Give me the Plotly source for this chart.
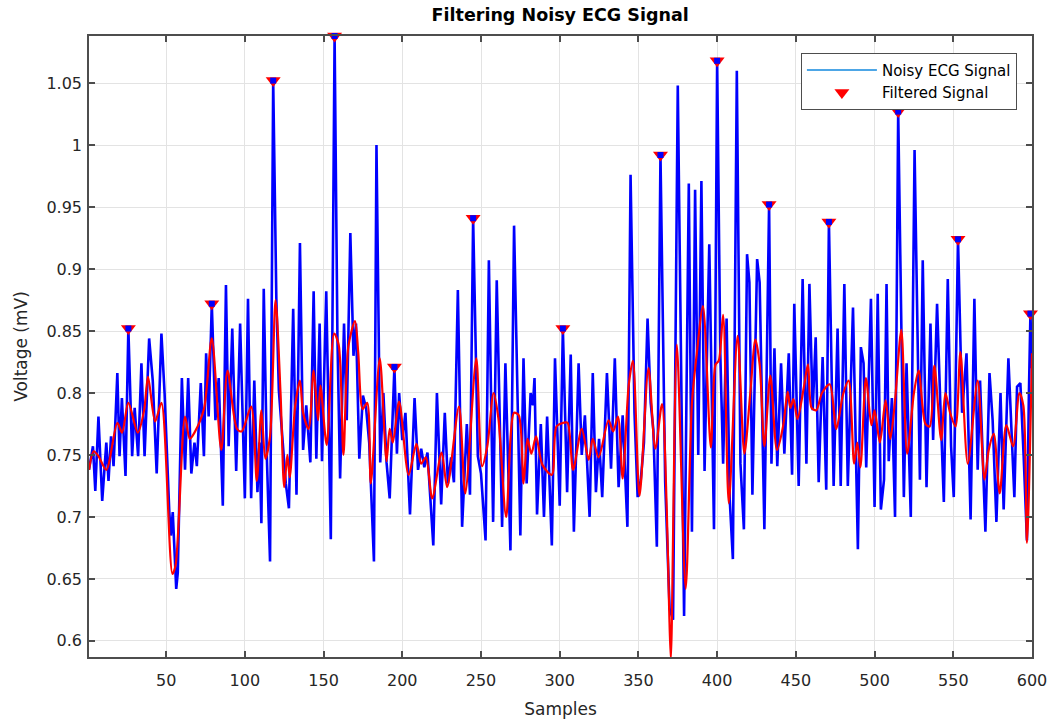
import plotly.graph_objects as go

# ---- data ----
noisy_x = [1, 3.5, 5, 7, 9.4, 12, 13.4, 15, 16.6, 19, 20.4, 21.9, 24.2, 26, 28.4, 30, 32.2, 34.3, 36.3, 39.2,
           41.5, 44, 47, 49, 52, 53, 54.2, 56.4, 57.4, 60, 62, 64, 66, 68, 69.5, 72, 74, 75.4, 77, 79,
           81.3, 83.4, 86, 88, 89.7, 92, 94.5, 97, 100, 102, 104, 106, 108, 109.3, 110.5, 112, 114, 116, 118, 120,
           121.6, 123.5, 126, 128, 130.7, 132.8, 135, 137, 139, 141.6, 143.7, 145.4, 147.5, 149, 151.7, 154.6, 157, 158.8, 160.5, 163,
           164.7, 167, 169, 170.6, 172.7, 175, 177, 179, 182, 183.6, 186, 188, 190, 192, 195, 196.6, 198, 200, 202, 204.9,
           207.8, 210, 212, 214, 216, 219.7, 222, 224.7, 227, 229, 231, 232.8, 235.3, 238, 241, 243, 245, 248, 250, 252.9,
           255, 257.7, 260, 263.4, 265.5, 268.7, 271, 275, 277, 279, 281.5, 283, 284, 285.6, 288, 290, 292, 295, 297, 300,
           302, 304.7, 307, 309, 312, 314, 316, 319, 321, 323, 325, 327, 330, 332.6, 335, 337.4, 340, 343, 345, 347.5,
           349.5, 351.5, 353.5, 355.8, 357.8, 359.5, 361.7, 364, 367, 369.8, 372, 375, 379, 382, 384, 386, 388, 390, 392, 395,
           398, 400, 402, 403.8, 406, 408, 410, 412.5, 414.8, 417, 419, 420.5, 422.4, 425.4, 427, 430, 433, 434.5, 436.4, 438.2,
           440.6, 442.7, 445.5, 447.6, 449, 451.8, 454.3, 456.7, 458.6, 460.7, 462.6, 464.5, 467, 469.3, 471, 474, 476.5, 478.5, 480.8, 483,
           486.3, 489.4, 491.3, 493, 494.7, 497.7, 500, 502, 504, 506, 507.6, 509, 511, 513, 515, 518.6, 520.3, 523, 525.4, 528.8,
           530.6, 533, 535.5, 537.2, 539.7, 541.8, 544, 546.5, 548.6, 550.3, 553, 555.6, 558.4, 561, 563.4, 565.5, 567, 570.4, 573, 575,
           577.4, 580, 582, 585, 587, 588.8, 590.5, 592.6, 594.7, 596.8, 598, 599, 600]
noisy_y = [0.738, 0.757, 0.721, 0.781, 0.713, 0.760, 0.729, 0.765, 0.741, 0.816, 0.749, 0.796, 0.733, 0.852, 0.749, 0.788, 0.749, 0.824, 0.749, 0.844,
           0.810, 0.735, 0.848, 0.800, 0.704, 0.685, 0.704, 0.642, 0.655, 0.812, 0.738, 0.812, 0.735, 0.760, 0.741, 0.808, 0.749, 0.832, 0.781, 0.872,
           0.778, 0.812, 0.709, 0.887, 0.757, 0.852, 0.737, 0.856, 0.715, 0.876, 0.715, 0.810, 0.720, 0.760, 0.695, 0.884, 0.747, 0.664, 1.052, 0.876,
           0.802, 0.770, 0.727, 0.707, 0.868, 0.718, 0.921, 0.754, 0.790, 0.744, 0.882, 0.747, 0.856, 0.745, 0.882, 0.682, 1.088, 0.845, 0.731, 0.856,
           0.778, 0.929, 0.830, 0.856, 0.747, 0.798, 0.788, 0.760, 0.664, 1.000, 0.744, 0.800, 0.744, 0.715, 0.821, 0.751, 0.800, 0.762, 0.784, 0.702,
           0.796, 0.738, 0.755, 0.740, 0.752, 0.677, 0.800, 0.710, 0.784, 0.727, 0.748, 0.728, 0.883, 0.692, 0.775, 0.718, 0.941, 0.749, 0.735, 0.681,
           0.907, 0.696, 0.891, 0.692, 0.824, 0.673, 0.935, 0.685, 0.828, 0.727, 0.800, 0.790, 0.812, 0.702, 0.775, 0.700, 0.781, 0.677, 0.828, 0.709,
           0.852, 0.720, 0.831, 0.688, 0.824, 0.750, 0.782, 0.700, 0.816, 0.720, 0.763, 0.716, 0.816, 0.739, 0.828, 0.724, 0.782, 0.692, 0.976, 0.784,
           0.716, 0.730, 0.760, 0.860, 0.792, 0.770, 0.676, 0.992, 0.728, 0.626, 0.617, 1.048, 0.620, 0.969, 0.688, 0.964, 0.750, 0.971, 0.737, 0.920,
           0.690, 1.068, 0.832, 0.743, 0.860, 0.714, 0.666, 1.060, 0.743, 0.690, 0.912, 0.889, 0.718, 0.908, 0.889, 0.690, 0.952, 0.743, 0.836, 0.741,
           0.824, 0.751, 0.832, 0.734, 0.872, 0.725, 0.892, 0.743, 0.888, 0.786, 0.845, 0.728, 0.829, 0.722, 0.938, 0.725, 0.852, 0.725, 0.888, 0.725,
           0.869, 0.674, 0.837, 0.824, 0.740, 0.876, 0.708, 0.880, 0.706, 0.730, 0.888, 0.745, 0.796, 0.700, 1.027, 0.716, 0.824, 0.700, 0.996, 0.730,
           0.907, 0.724, 0.856, 0.762, 0.872, 0.790, 0.712, 0.892, 0.757, 0.716, 0.924, 0.784, 0.832, 0.698, 0.876, 0.738, 0.810, 0.688, 0.816, 0.778,
           0.696, 0.800, 0.706, 0.828, 0.770, 0.716, 0.805, 0.808, 0.749, 0.681, 0.797, 0.864, 0.820]

filtered_x = [1, 4, 7, 12, 19, 22, 26, 32, 36, 38.5, 43, 47, 54, 56, 62, 65, 68, 74, 79, 85,
              89, 95, 98, 104, 107.6, 110.5, 113, 116, 119.5, 122.7, 125, 127, 128.5, 132, 135, 137, 140.5, 143.7, 146.5, 148,
              152, 156.7, 159.6, 162.6, 165.8, 170, 172, 174.8, 177.7, 180, 185.7, 190, 192, 194, 198, 204, 209, 212, 215, 219,
              225, 228.5, 236, 240, 247, 250.7, 254, 258, 261, 266, 271, 274, 277, 279.5, 282, 285, 289, 295, 298, 302.5,
              305, 308.5, 314, 318.4, 321, 324.7, 331, 334, 337, 340, 343.8, 346.5, 350.7, 356.4, 360.7, 365, 368, 369.5, 370.6, 374.4,
              380, 384, 387, 391, 396, 399, 401, 403.8, 407.4, 413, 417.3, 421, 424.3, 427, 430, 433.8, 438, 442, 444.8, 446.5,
              448.5, 451, 455, 457.7, 460, 463, 466.6, 471.5, 475.7, 480, 483.5, 487, 489, 491, 494.5, 498, 500, 503.4, 507, 510,
              513, 517, 520.7, 525, 528, 532.3, 535, 538, 542.3, 545, 548, 551.4, 554.5, 559.2, 565.5, 569.8, 572.5, 575.7, 579.5, 583.7,
              588, 592, 594.5, 596.8, 600]
filtered_y = [0.738, 0.753, 0.749, 0.738, 0.776, 0.768, 0.792, 0.768, 0.786, 0.813, 0.777, 0.792, 0.654, 0.661, 0.781, 0.763, 0.768, 0.787, 0.844, 0.754,
              0.818, 0.771, 0.769, 0.789, 0.729, 0.786, 0.747, 0.765, 0.875, 0.799, 0.724, 0.750, 0.732, 0.790, 0.810, 0.784, 0.771, 0.818, 0.778, 0.806,
              0.758, 0.848, 0.839, 0.750, 0.838, 0.858, 0.833, 0.787, 0.792, 0.727, 0.828, 0.745, 0.771, 0.760, 0.793, 0.734, 0.759, 0.743, 0.748, 0.715,
              0.752, 0.724, 0.789, 0.719, 0.828, 0.741, 0.757, 0.800, 0.780, 0.700, 0.784, 0.782, 0.727, 0.763, 0.751, 0.765, 0.742, 0.734, 0.773, 0.776,
              0.776, 0.738, 0.771, 0.746, 0.763, 0.748, 0.778, 0.769, 0.781, 0.731, 0.806, 0.826, 0.717, 0.820, 0.755, 0.791, 0.706, 0.626, 0.585, 0.839,
              0.642, 0.792, 0.831, 0.870, 0.756, 0.823, 0.826, 0.863, 0.711, 0.846, 0.751, 0.799, 0.843, 0.823, 0.757, 0.814, 0.754, 0.774, 0.801, 0.788,
              0.795, 0.779, 0.804, 0.823, 0.788, 0.786, 0.800, 0.807, 0.771, 0.799, 0.810, 0.743, 0.760, 0.740, 0.812, 0.774, 0.786, 0.760, 0.794, 0.763,
              0.794, 0.851, 0.751, 0.800, 0.818, 0.775, 0.773, 0.822, 0.762, 0.800, 0.784, 0.773, 0.833, 0.743, 0.810, 0.730, 0.754, 0.767, 0.719, 0.774,
              0.757, 0.800, 0.790, 0.679, 0.832]

peak_x = [26, 79, 118, 157, 195, 245, 302, 364, 400, 433, 471, 515, 553, 599]
peak_y = [0.852, 0.872, 1.052, 1.088, 0.821, 0.941, 0.852, 0.992, 1.068, 0.952, 0.938, 1.027, 0.924, 0.864]

x_ticks = [50, 100, 150, 200, 250, 300, 350, 400, 450, 500, 550, 600]
y_ticks = [0.6, 0.65, 0.7, 0.75, 0.8, 0.85, 0.9, 0.95, 1.0, 1.05]
y_tick_labels = ["0.6", "0.65", "0.7", "0.75", "0.8", "0.85", "0.9", "0.95", "1", "1.05"]

FONT = "DejaVu Sans, Verdana, sans-serif"
TXT = "#262626"

fig = go.Figure()
fig.add_trace(go.Scatter(x=noisy_x, y=noisy_y, mode="lines", line=dict(color="#0000FF", width=2.6),
                         showlegend=False, hoverinfo="skip"))
fig.add_trace(go.Scatter(x=filtered_x, y=filtered_y, mode="lines",
                         line=dict(color="#FF0000", width=2.2, shape="spline", smoothing=0.8),
                         showlegend=False, hoverinfo="skip"))
fig.add_trace(go.Scatter(x=peak_x, y=peak_y, mode="markers", cliponaxis=False,
                         marker=dict(symbol="triangle-down", color="#FF0000", size=13, line=dict(width=0)),
                         showlegend=False))
fig.add_trace(go.Scatter(x=peak_x, y=peak_y, mode="markers", cliponaxis=False,
                         marker=dict(symbol="square", color="#0000FF", size=6, line=dict(width=0)),
                         showlegend=False))
# legend entries
fig.add_trace(go.Scatter(x=[None], y=[None], mode="lines", name="Noisy ECG Signal",
                         line=dict(color="#4DA6E6", width=2)))
fig.add_trace(go.Scatter(x=[None], y=[None], mode="markers", name="Filtered Signal",
                         marker=dict(symbol="triangle-down", color="#FF0000", size=13)))

axis_common = dict(showgrid=True, gridcolor="#E3E3E3", gridwidth=1, zeroline=False,
                   showline=True, linecolor="#4D4D4D", linewidth=1.5, mirror="allticks",
                   ticks="inside", ticklen=6, tickcolor="#4D4D4D", tickwidth=1.5,
                   automargin=False,
                   tickfont=dict(family=FONT, size=16, color=TXT))

fig.update_xaxes(range=[1, 600], tickvals=x_ticks, ticklabelstandoff=8,
                 title=dict(text="Samples", font=dict(family=FONT, size=17, color=TXT), standoff=16),
                 **axis_common)
fig.update_yaxes(range=[0.587, 1.088], tickvals=y_ticks, ticktext=y_tick_labels, ticklabelstandoff=2,
                 title=dict(text="Voltage (mV)", font=dict(family=FONT, size=17, color=TXT), standoff=14),
                 **axis_common)

fig.update_layout(
    width=1049, height=719,
    margin=dict(l=89, r=17, t=36, b=62, autoexpand=False),
    paper_bgcolor="white", plot_bgcolor="white",
    title=dict(text="<b>Filtering Noisy ECG Signal</b>", x=0.534, xanchor="center",
               y=0.979, yanchor="middle", font=dict(family=FONT, size=17.5, color="#000000")),
    legend=dict(x=0.984, y=0.973, xanchor="right", yanchor="top",
                bgcolor="white", bordercolor="#4D4D4D", borderwidth=1,
                font=dict(family=FONT, size=15, color="#000000"),
                itemwidth=70, tracegroupgap=0),
    showlegend=True,
)

fig.write_html("out.html")
